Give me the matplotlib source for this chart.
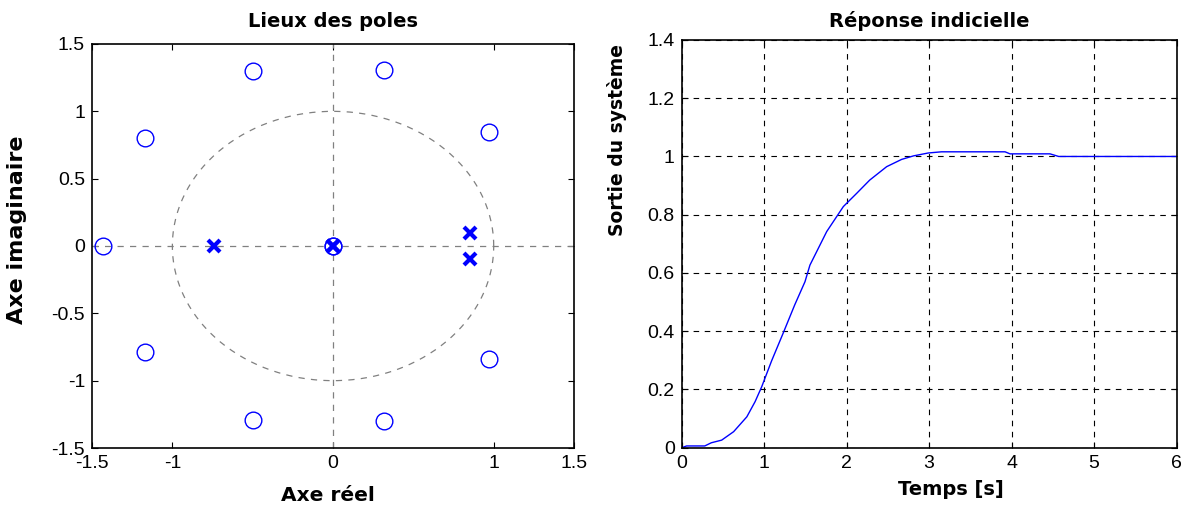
import numpy as np
import matplotlib
matplotlib.use("Agg")
import matplotlib.pyplot as plt

plt.rcParams['font.family'] = ['Liberation Sans', 'DejaVu Sans']

# ---- data: pole-zero map ----
zeros_re = [-1.43, -1.17, -0.50, 0.32, 0.97, 0.97, 0.32, -0.50, -1.17, 0.0, 0.0]
zeros_im = [0.0, 0.80, 1.30, 1.31, 0.85, -0.84, -1.30, -1.29, -0.79, 0.0, 0.0]
poles_re = [-0.74, 0.85, 0.85, 0.0, 0.0]
poles_im = [0.0, 0.10, -0.10, 0.0, 0.0]

# ---- data: step response ----
t_vals = [0.0, 0.06, 0.28, 0.36, 0.485, 0.63, 0.79, 0.89, 0.97, 1.09, 1.23, 1.37,
          1.495, 1.555, 1.758, 1.96, 2.12, 2.28, 2.485, 2.667, 2.81, 2.99, 3.15,
          3.92, 3.98, 4.465, 4.57, 6.0]
y_vals = [0.0, 0.006, 0.006, 0.017, 0.026, 0.055, 0.106, 0.158, 0.209, 0.298, 0.393,
          0.49, 0.57, 0.627, 0.742, 0.828, 0.873, 0.919, 0.965, 0.99, 1.002, 1.012,
          1.016, 1.016, 1.009, 1.009, 1.0, 1.0]

BOLD = dict(family=['DejaVu Sans'], fontweight='bold')

fig = plt.figure(figsize=(11.89, 5.08), dpi=100)

# ---------------- left: pole-zero map ----------------
ax1 = fig.add_axes([0.0774, 0.1181, 0.4054, 0.7953])
theta = np.linspace(0, 2 * np.pi, 400)
ax1.plot(np.cos(theta), np.sin(theta), linestyle=(0, (5, 5)), color='#808080', lw=0.9)
ax1.axhline(0, linestyle=(0, (5, 5)), color='#808080', lw=0.9)
ax1.axvline(0, linestyle=(0, (5, 5)), color='#808080', lw=0.9)
ax1.plot(zeros_re, zeros_im, linestyle='none', marker='o', markersize=12,
         markerfacecolor='none', markeredgecolor='#0000ff', markeredgewidth=1.0)
ax1.plot(poles_re, poles_im, linestyle='none', marker='x', markersize=9,
         color='#0000ff', markeredgewidth=3)
ax1.set_xlim(-1.5, 1.5)
ax1.set_ylim(-1.5, 1.5)
ax1.set_xticks([-1.5, -1, 0, 1, 1.5])
ax1.set_xticklabels(['-1.5', '-1', '0', '1', '1.5'])
ax1.set_yticks([-1.5, -1, -0.5, 0, 0.5, 1, 1.5])
ax1.set_yticklabels(['-1.5', '-1', '-0.5', '0', '0.5', '1', '1.5'])
ax1.set_title('Lieux des poles', fontsize=14, pad=12, **BOLD)
ax1.set_xlabel('Axe réel', fontsize=14.5, **BOLD)
ax1.xaxis.set_label_coords(0.49, -0.095)
ax1.set_ylabel('Axe imaginaire', fontsize=16, **BOLD)
ax1.yaxis.set_label_coords(-0.135, 0.54)

# ---------------- right: step response ----------------
ax2 = fig.add_axes([0.5733, 0.1187, 0.4163, 0.8026])
ax2.plot(t_vals, y_vals, color='#0000ff', lw=1.0)
ax2.set_xlim(0, 6)
ax2.set_ylim(0, 1.4)
ax2.set_xticks(range(0, 7))
ax2.set_yticks([0, 0.2, 0.4, 0.6, 0.8, 1.0, 1.2, 1.4])
ax2.set_yticklabels(['0', '0.2', '0.4', '0.6', '0.8', '1', '1.2', '1.4'])
ax2.grid(True, linestyle=(0, (5, 5)), color='black', lw=0.8)
ax2.set_title('Réponse indicielle', fontsize=14, pad=9, **BOLD)
ax2.set_xlabel('Temps [s]', fontsize=14, **BOLD)
ax2.xaxis.set_label_coords(0.544, -0.08)
ax2.set_ylabel('Sortie du système', fontsize=13.5, **BOLD)
ax2.yaxis.set_label_coords(-0.11, 0.755)

for ax in (ax1, ax2):
    ax.tick_params(direction='in', top=True, right=True, length=4, width=0.8,
                   labelsize=14, pad=5)
    for s in ax.spines.values():
        s.set_linewidth(1.2)

fig.savefig('out.png', dpi=100)
